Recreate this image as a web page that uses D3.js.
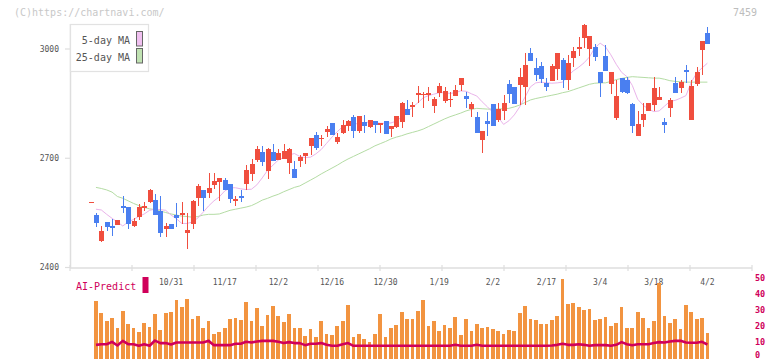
<!DOCTYPE html>
<html><head><meta charset="utf-8">
<script src="https://cdn.jsdelivr.net/npm/d3@7"></script>
<style>body{margin:0;background:#fff}svg{display:block}</style>
</head><body>
<svg id="c" width="772" height="361"></svg>
<script>
const dates = ["10/9","10/10","10/14","10/15","10/16","10/17","10/20","10/21","10/22","10/23","10/24","10/27","10/28","10/29","10/30","10/31",
"11/4","11/5","11/6","11/7","11/10","11/11","11/12","11/13","11/14","11/17","11/18","11/19","11/20","11/21","11/25","11/26","11/27","11/28",
"12/1","12/2","12/3","12/4","12/5","12/8","12/9","12/10","12/11","12/12","12/15","12/16","12/17","12/18","12/19","12/22","12/23","12/24","12/25","12/26","12/29","12/30",
"1/5","1/6","1/7","1/8","1/9","1/13","1/14","1/15","1/16","1/19","1/20","1/21","1/22","1/23","1/26","1/27","1/28","1/29","1/30",
"2/2","2/3","2/4","2/5","2/6","2/9","2/10","2/12","2/13","2/16","2/17","2/18","2/19","2/20","2/24","2/25","2/26","2/27",
"3/2","3/3","3/4","3/5","3/6","3/9","3/10","3/11","3/12","3/13","3/16","3/17","3/18","3/19","3/23","3/24","3/25","3/26","3/27","3/30","3/31","4/1","4/2"];
const openP  = [2580,2544,2474,2525,2514,2518,2569,2566,2515,2539,2566,2580,2585,2555,2507,2519,2543,2544,2496,2520,2591,2613,2605,2627,2636,2640,2629,2583,2596,2630,2658,2695,2717,2664,2717,2695,2698,2688,2670,2692,2706,2734,2764,2754,2772,2797,2745,2770,2789,2813,2775,2800,2787,2802,2790,2802,2781,2787,2800,2835,2842,2873,2873,2874,2844,2878,2858,2860,2872,2901,2871,2834,2814,2750,2802,2850,2805,2831,2903,2896,2901,2896,2989,2947,2953,2906,2912,2945,2969,2915,2976,3001,3031,2999,3005,2938,2981,2903,2810,2921,2915,2849,2761,2805,2830,2846,2860,2799,2838,2906,2892,2942,2805,2904,2997,3045];
const highP  = [2580,2550,2514,2525,2534,2531,2596,2566,2535,2574,2579,2616,2601,2596,2523,2519,2577,2580,2549,2585,2629,2613,2659,2659,2645,2646,2629,2596,2613,2681,2699,2734,2734,2728,2740,2725,2740,2728,2692,2709,2715,2755,2773,2764,2789,2797,2768,2805,2805,2819,2816,2819,2805,2802,2798,2802,2789,2816,2855,2860,2855,2898,2883,2896,2869,2906,2896,2883,2901,2921,2883,2855,2828,2776,2828,2850,2851,2874,2915,2896,2949,2988,3002,2974,2964,2920,2959,2989,2976,2984,3006,3034,3069,3037,3014,2938,3011,2938,2915,2921,2922,2853,2831,2851,2853,2924,2895,2810,2865,2922,2915,2956,2915,2951,3022,3061];
const lowP   = [2580,2510,2471,2501,2487,2517,2550,2507,2512,2530,2556,2576,2545,2485,2485,2507,2510,2519,2452,2507,2569,2556,2590,2615,2583,2614,2578,2569,2580,2613,2638,2689,2680,2644,2693,2695,2698,2657,2647,2677,2685,2709,2723,2734,2758,2764,2739,2767,2776,2756,2770,2770,2782,2770,2768,2767,2758,2782,2782,2819,2814,2851,2839,2858,2825,2869,2851,2842,2872,2885,2839,2814,2770,2715,2761,2789,2800,2805,2851,2850,2846,2846,2968,2912,2906,2885,2912,2915,2894,2887,2951,2981,3002,2953,2968,2869,2940,2876,2805,2878,2876,2770,2761,2787,2830,2831,2860,2768,2814,2880,2878,2906,2805,2898,2928,3013];
const closeP = [2580,2523,2500,2512,2509,2530,2564,2520,2528,2566,2568,2613,2545,2494,2514,2507,2537,2549,2502,2583,2624,2592,2618,2638,2645,2614,2589,2589,2591,2668,2684,2725,2690,2725,2693,2715,2720,2725,2647,2704,2714,2755,2727,2756,2780,2764,2758,2791,2802,2776,2816,2789,2805,2790,2798,2767,2789,2816,2851,2819,2846,2878,2877,2878,2863,2898,2885,2863,2887,2921,2862,2849,2770,2776,2795,2789,2836,2853,2876,2850,2923,2956,2968,2929,2917,2896,2953,2989,2915,2961,2995,3005,3066,3037,2979,2907,2940,2938,2871,2883,2880,2789,2794,2821,2851,2892,2868,2792,2860,2880,2909,2938,2898,2937,3022,3013];
const ma5  = [null,2560,2558,2546,2535,2525,2514,2525,2532,2540,2547,2557,2560,2559,2557,2544,2534,2521,2521,2525,2536,2552,2569,2583,2594,2610,2619,2619,2616,2614,2615,2627,2646,2667,2681,2695,2702,2709,2713,2705,2702,2703,2712,2724,2741,2758,2773,2787,2794,2796,2794,2797,2800,2798,2796,2796,2797,2802,2813,2826,2840,2852,2866,2872,2876,2880,2880,2878,2880,2885,2884,2877,2871,2855,2841,2826,2812,2793,2803,2819,2841,2868,2896,2907,2909,2907,2906,2907,2909,2926,2940,2950,2962,2978,3003,3016,3006,2984,2958,2936,2924,2900,2862,2846,2835,2828,2830,2843,2856,2859,2865,2872,2909,2934,2948,2961];
const ma25 = [null,2620,2617,2613,2607,2595,2590,2583,2576,2570,2565,2561,2559,2555,2551,2547,2544,2541,2540,2538,2540,2544,2546,2546,2547,2552,2557,2560,2563,2566,2570,2577,2585,2590,2596,2601,2608,2614,2620,2624,2632,2640,2648,2657,2665,2673,2681,2690,2698,2705,2712,2719,2726,2734,2740,2746,2753,2758,2762,2767,2771,2775,2780,2787,2794,2801,2808,2814,2819,2824,2830,2834,2837,2836,2835,2835,2835,2836,2837,2841,2846,2853,2860,2864,2867,2870,2873,2876,2880,2883,2888,2893,2898,2903,2906,2907,2907,2911,2916,2919,2922,2924,2923,2922,2921,2920,2920,2917,2913,2911,2910,2909,2909,2909,2909,2909];
const volume = [null,35.8,28.3,23.1,25.2,18.8,29.6,21.4,18.9,16.4,22.1,19.6,27.7,17.7,28.3,28.9,36.4,32.1,37.1,24.6,26.4,18.9,23.1,15.2,16.4,18.9,24.6,25.2,23.8,35.2,23.1,31.4,20,26.9,32.5,26.3,22.5,27.7,18.8,18.8,13.8,18.1,13.1,23.1,15,14.4,20,23.1,33.1,13.1,15,11.9,10.2,15,27.5,13.1,18.8,20.6,28.8,24.4,24.4,29.4,36.3,20,23.1,16.9,20.6,18.8,25.6,14.4,24.4,16.9,21.3,18.8,19.4,17.9,16.9,15,17.5,16.9,28.3,32.5,24.4,23.8,21.3,21.3,23.8,26.3,49.4,33.9,34.6,31.9,30,30.8,23.8,24.4,25.6,20,22.1,31.9,18.8,18.8,28.8,25,18.8,23.1,46.9,26.3,21.9,24.4,18.1,33.1,28.8,24.4,25,15.6];
const aiPredict = [null,8.1,8.5,8.5,10.0,7.7,10.6,8.5,8.5,7.5,8.5,7.5,10.8,9.2,9.2,8.3,9.6,9.6,9.6,9.6,9.6,9.6,10.6,7.9,7.9,7.9,7.9,8.75,8.75,10.0,9.6,10.2,10.6,10.6,10.6,10.0,9.2,9.8,9.2,9.2,7.9,8.75,8.75,9.2,8.1,7.5,7.5,8.5,9.2,7.5,7.5,7.5,7.5,7.5,7.5,7.5,7.5,7.5,7.5,7.5,7.5,7.5,7.5,7.5,7.5,7.5,7.5,7.5,8.1,7.5,7.5,7.5,8.1,7.5,7.5,7.5,7.5,7.5,7.5,7.5,7.5,7.5,7.5,7.5,7.5,7.5,7.7,8.1,8.75,8.1,8.1,8.5,8.1,7.5,7.9,7.9,7.9,7.5,8.1,9.8,8.5,7.9,8.5,8.5,8.5,9.2,9.8,9.6,10.2,10.6,10.6,9.6,9.4,9.4,10.0,8.3];
const priceTicks = [2400,2700,3000];
const volTicks = [0,10,20,30,40,50];
const dateLabels = ["10/31","11/17","12/2","12/16","12/30","1/19","2/2","2/17","3/4","3/18","4/2"];
const gridSteps = d3.range(12);

const svg = d3.select("#c");
const mono = "'DejaVu Sans Mono', 'Liberation Mono', monospace";
const RED = "#f04e3e", BLUE = "#4a7ff0", AXIS = "#dedede", TXT = "#555", CRIM = "#d0005a";

const x = d3.scalePoint().domain(dates).range([90.6, 707.4]);
const y = d3.scaleLinear().domain([2400, 3000]).range([267.5, 49]);
const yv = d3.scaleLinear().domain([0, 50]).range([357.7, 278.3]);
const gx = d3.scaleLinear().domain([0, 11]).range([70, 752]);

// header texts
svg.append("text").attr("x", 14).attr("y", 16).attr("font-family", mono).attr("font-size", 10)
  .attr("fill", "#c8c8c8").text("(C)https://chartnavi.com/");
svg.append("text").attr("x", 757).attr("y", 16).attr("text-anchor", "end").attr("font-family", mono)
  .attr("font-size", 10).attr("fill", "#bdbdbd").text("7459");

// axes
svg.append("line").attr("x1", 70.5).attr("x2", 70.5).attr("y1", 24).attr("y2", 268)
  .attr("stroke", AXIS).attr("stroke-width", 1.5);
svg.append("line").attr("x1", 70).attr("x2", gx(11)).attr("y1", 268).attr("y2", 268)
  .attr("stroke", AXIS).attr("stroke-width", 1.5);
svg.selectAll(".gt").data(gridSteps).join("line").attr("class", "gt")
  .attr("x1", d => gx(d)).attr("x2", d => gx(d)).attr("y1", 265).attr("y2", 271)
  .attr("stroke", AXIS).attr("stroke-width", 1.2);
svg.selectAll(".yt").data(priceTicks).join("line").attr("class", "yt")
  .attr("x1", 65).attr("x2", 70).attr("y1", d => y(d)).attr("y2", d => y(d))
  .attr("stroke", AXIS).attr("stroke-width", 1.2);
svg.selectAll(".yl").data(priceTicks).join("text").attr("class", "yl")
  .attr("x", 59).attr("y", d => y(d)).attr("dy", "0.35em").attr("text-anchor", "end")
  .attr("font-family", mono).attr("font-size", 8).attr("fill", TXT).text(d => d);
svg.selectAll(".xl").data(dateLabels).join("text").attr("class", "xl")
  .attr("x", d => x(d)).attr("y", 285).attr("text-anchor", "middle")
  .attr("font-family", mono).attr("font-size", 8).attr("fill", TXT).text(d => d);

// moving averages
const idx = d3.range(dates.length);
const maLine = arr => d3.line().defined(i => arr[i] != null).x(i => x(dates[i])).y(i => y(arr[i]))(idx);
svg.append("path").attr("d", maLine(ma25)).attr("fill", "none").attr("stroke", "#b4dca4").attr("stroke-width", 1);
svg.append("path").attr("d", maLine(ma5)).attr("fill", "none").attr("stroke", "#eab4ea").attr("stroke-width", 1);

// candles
const g = svg.append("g").attr("shape-rendering", "crispEdges");
g.selectAll(".wick").data(idx).join("line").attr("class", "wick")
  .attr("x1", i => Math.round(x(dates[i])) + 0.5).attr("x2", i => Math.round(x(dates[i])) + 0.5)
  .attr("y1", i => y(highP[i])).attr("y2", i => y(lowP[i]))
  .attr("stroke", i => closeP[i] >= openP[i] ? RED : BLUE).attr("stroke-width", 1);
g.selectAll(".body").data(idx).join("rect").attr("class", "body")
  .attr("x", i => Math.round(x(dates[i])) - 2).attr("width", 5)
  .attr("y", i => y(Math.max(openP[i], closeP[i])))
  .attr("height", i => Math.max(1.5, Math.abs(y(openP[i]) - y(closeP[i]))))
  .attr("fill", i => closeP[i] >= openP[i] ? RED : BLUE);

// legend
const lg = svg.append("g");
lg.append("rect").attr("x", 70.5).attr("y", 24.5).attr("width", 78).attr("height", 47)
  .attr("fill", "#fff").attr("stroke", "#e2e2e2").attr("stroke-width", 1.2);
const legendNames = ["5-day MA", "25-day MA"];
const legendColors = ["#f0c0f0", "#c0e2b2"];
lg.selectAll(".lt").data(legendNames).join("text").attr("class", "lt")
  .attr("x", 130).attr("y", (d, i) => 44 + i * 16.5).attr("text-anchor", "end")
  .attr("font-family", mono).attr("font-size", 10).attr("fill", TXT).text(d => d);
lg.selectAll(".ls").data(legendColors).join("rect").attr("class", "ls")
  .attr("x", 136.5).attr("y", (d, i) => 31.5 + i * 17).attr("width", 6).attr("height", 14.5)
  .attr("fill", d => d).attr("stroke", "#666").attr("stroke-width", 1);

// volume panel
const vidx = idx.filter(i => volume[i] != null);
svg.append("g").attr("shape-rendering", "crispEdges").selectAll("rect").data(vidx).join("rect")
  .attr("x", i => x(dates[i]) - 1.9).attr("width", 3.8)
  .attr("y", i => yv(volume[i])).attr("height", i => yv(0) - yv(volume[i]) + 1.5)
  .attr("fill", "#f29440");
svg.append("path").attr("d", d3.line().defined(i => aiPredict[i] != null)
    .x(i => x(dates[i])).y(i => yv(aiPredict[i]))(idx))
  .attr("fill", "none").attr("stroke", CRIM).attr("stroke-width", 2.6).attr("stroke-linejoin", "round");
svg.selectAll(".vl").data(volTicks).join("text").attr("class", "vl")
  .attr("x", 755).attr("y", d => Math.min(yv(d), 355.5)).attr("dy", "0.35em")
  .attr("font-family", mono).attr("font-size", 8.5).attr("font-weight", "bold").attr("fill", CRIM).text(d => d);
svg.append("text").attr("x", 76).attr("y", 289.5).attr("font-family", mono).attr("font-size", 10)
  .attr("fill", CRIM).text("AI-Predict");
svg.append("rect").attr("x", 142.5).attr("y", 277).attr("width", 6).attr("height", 16).attr("fill", CRIM);
</script>
</body></html>
